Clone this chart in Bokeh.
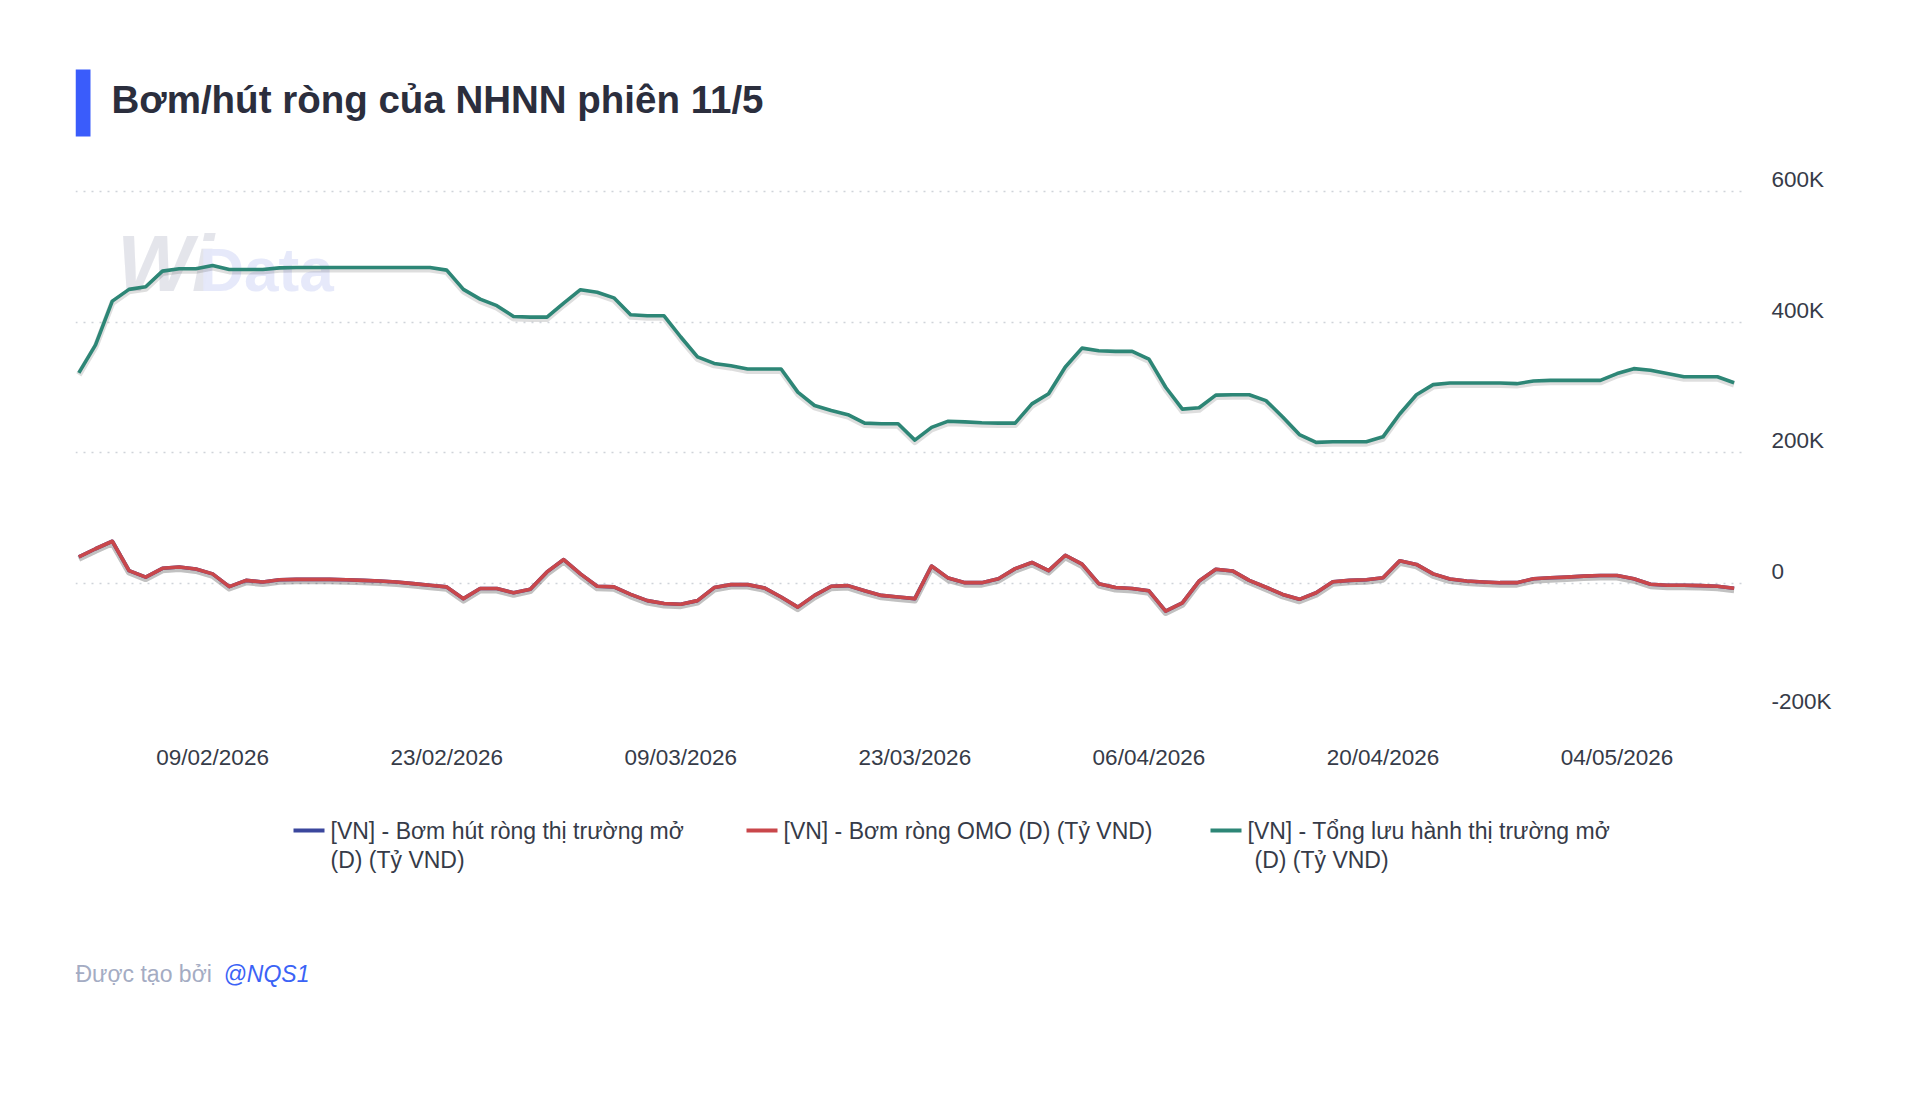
import pandas as pd
from bokeh.plotting import figure
from bokeh.models import (ColumnDataSource, Range1d, FixedTicker, DatetimeTickFormatter,
                          Label, BoxAnnotation, LinearAxis)
from bokeh.layouts import column
from bokeh.transform import dodge
from bokeh.embed import file_html
from bokeh.resources import INLINE

# ---------------- data, daily 01/02/2026 .. 11/05/2026 ----------------
first_day = "2026-02-01"
last_day = "2026-05-11"

tong_luu_hanh = [  # [VN] - Tổng lưu hành thị trường mở (D) (Tỷ VND)
    322000, 365000, 432000, 450000, 454000, 478000, 481500, 481500, 486500, 480500,
    480500, 480500, 483000, 483500, 483500, 483500, 483500, 483500, 483500, 483500,
    483500, 483500, 479500, 450000, 435000, 425000, 408500, 407500, 407500, 429000,
    449500, 445500, 437000, 411000, 409500, 409500, 377000, 346500, 336500, 333000,
    328000, 328000, 328000, 292500, 272000, 264500, 258000, 245000, 244000, 244000,
    219000, 238500, 248000, 247000, 245500, 245000, 245000, 274500, 290000, 331000,
    360000, 356000, 355000, 355000, 343000, 300000, 266500, 268500, 288000, 288500,
    288500, 279500, 254500, 227500, 215500, 216500, 216500, 216500, 224000, 259000,
    288500, 304000, 306500, 306500, 306500, 306500, 305500, 309500, 310500, 310500,
    310500, 310500, 321000, 328500, 326000, 321000, 316000, 316000, 316000, 307000,
]

bom_rong_omo = [  # [VN] - Bơm ròng OMO (D) (Tỷ VND)
    40000, 52500, 64000, 19000, 9000, 22500, 24500, 21500, 14000, -5500,
    4000, 1500, 5000, 5500, 5500, 5500, 5000, 4000, 3000, 1500,
    -1000, -3500, -6000, -24000, -8500, -8500, -15000, -9500, 17000, 36000,
    14000, -5000, -6000, -17500, -27000, -31500, -32500, -27000, -7000, -2500,
    -2500, -7500, -21500, -37000, -19000, -5000, -4000, -12000, -19000, -21500,
    -24000, 26000, 7500, 500, 500, 6500, 22000, 31500, 19000, 42500,
    29000, -1000, -7000, -8500, -12000, -43000, -30500, 3000, 21000, 18500,
    4000, -6500, -17500, -25000, -15000, 2000, 4000, 5000, 8000, 34000,
    28500, 14000, 6000, 3000, 1500, 500, 500, 6500, 8000, 9000,
    10500, 11500, 11500, 6500, -2000, -3500, -3500, -4000, -5000, -8000,
]

# [VN] - Bơm hút ròng thị trường mở (D) (Tỷ VND): hidden under the OMO line, same values
bom_hut_rong = list(bom_rong_omo)

x_tick_dates = ["2026-02-09", "2026-02-23", "2026-03-09", "2026-03-23",
                "2026-04-06", "2026-04-20", "2026-05-04"]
y_ticks = [-200000, 0, 200000, 400000, 600000]
y_tick_labels = ["-200K", "0", "200K", "400K", "600K"]

title_text = "Bơm/hút ròng của NHNN phiên 11/5"
series_names = [
    ["[VN] - Bơm hút ròng thị trường mở", "(D) (Tỷ VND)"],
    ["[VN] - Bơm ròng OMO (D) (Tỷ VND)"],
    ["[VN] - Tổng lưu hành thị trường mở", "(D) (Tỷ VND)"],
]
second_line_indent = [0, 0, 7]
series_colors = ["#3b479d", "#c9474b", "#2d8676"]
credit_text = "Được tạo bởi"
credit_user = "@NQS1"

# ---------------- styles / layout ----------------
FONT = "Liberation Sans"
TEXT_COLOR = "#363b48"
W = 1904
BL, BR = 75, 157            # left / right borders shared by all three panels
FRAME_W = W - BL - BR       # 1672
GRID_PX = 522               # pixels between -200K and 600K
FRAME_H = 548               # frame a bit taller than the grid, on top
TOP_H, MAIN_TOP, MAIN_BOT, BOT_H = 140, 25, 60, 250

dates = pd.date_range(first_day, last_day, freq="D")
src = ColumnDataSource(dict(date=dates, tong=tong_luu_hanh, omo=bom_rong_omo, net=bom_hut_rong))

day_ms = 86400000
x0 = pd.Timestamp(first_day).value // 10**6
y_lo, y_hi = -200000, 600000
unit_per_px = (y_hi - y_lo) / GRID_PX
y_top = y_lo + FRAME_H * unit_per_px
label_lift = 12 * unit_per_px          # tick labels sit ~12px above their grid line


def blank_fig(h):
    f = figure(width=W, height=h, x_range=Range1d(0, FRAME_W), y_range=Range1d(h, 0),
               x_axis_type=None, y_axis_type=None, output_backend="svg",
               toolbar_location=None, title=None, min_border_left=BL, min_border_right=BR,
               min_border_top=0, min_border_bottom=0)
    f.outline_line_color = None
    f.xgrid.visible = False
    f.ygrid.visible = False
    f.background_fill_color = "white"
    f.border_fill_color = "white"
    return f


# ---------------- title block ----------------
top = blank_fig(TOP_H)
top.add_layout(BoxAnnotation(left=0, right=15, top=69, bottom=136,
                             fill_color="#3a5cfb", fill_alpha=1, line_color=None))
top.add_layout(Label(x=36, y=99, text=title_text, text_font=FONT, text_font_size="38.5px",
                     text_font_style="bold", text_color="#2b2e3d", text_baseline="middle"))

# ---------------- main chart ----------------
p = figure(width=W, height=MAIN_TOP + FRAME_H + MAIN_BOT, x_axis_type="datetime",
           y_axis_location="right",
           x_range=Range1d(x0 - 0.2 * day_ms, x0 + 99.8 * day_ms), y_range=Range1d(y_lo, y_top),
           output_backend="svg", toolbar_location=None, title=None,
           min_border_left=BL, min_border_right=BR, min_border_top=MAIN_TOP,
           min_border_bottom=MAIN_BOT)
p.extra_y_ranges = {"lbl": Range1d(y_lo - label_lift, y_top - label_lift)}
p.outline_line_color = None
p.background_fill_color = "white"
p.border_fill_color = "white"
p.xgrid.grid_line_color = None
p.ygrid.ticker = FixedTicker(ticks=y_ticks)
p.ygrid.grid_line_color = "#cfd3d9"
p.ygrid.grid_line_width = 1.6
p.ygrid.grid_line_dash = "2 6"
p.yaxis.visible = False

yax = LinearAxis(y_range_name="lbl", ticker=FixedTicker(ticks=y_ticks),
                 major_label_overrides={t: s for t, s in zip(y_ticks, y_tick_labels)})
p.add_layout(yax, "right")

p.xaxis.ticker = FixedTicker(ticks=[pd.Timestamp(d).value // 10**6 for d in x_tick_dates])
p.xaxis.formatter = DatetimeTickFormatter(days="%d/%m/%Y", months="%d/%m/%Y", years="%d/%m/%Y",
                                          hours="%d/%m/%Y")
for ax in (p.xaxis[0], yax):
    ax.axis_line_color = None
    ax.major_tick_line_color = None
    ax.minor_tick_line_color = None
    ax.major_label_text_font = FONT
    ax.major_label_text_font_size = "22.5px"
    ax.major_label_text_color = TEXT_COLOR
yax.major_label_standoff = 18
p.xaxis.major_label_standoff = 25

# watermark
p.add_layout(Label(x=x0 + 2.3 * day_ms, y=422000, text="Wi", text_font=FONT, text_font_size="80px",
                   text_font_style="bold italic", text_color="#dfe0e7", text_alpha=0.85,
                   level="underlay"))
p.add_layout(Label(x=x0 + 7.2 * day_ms, y=427000, text="Data", text_font=FONT, text_font_size="62px",
                   text_font_style="bold", text_color="#e5e8fa", text_alpha=0.95,
                   level="underlay"))

for col in ("tong", "net", "omo"):
    p.line(x="date", y=dodge(col, -3000), source=src, line_color="#000000", line_alpha=0.13,
           line_width=6, line_join="round")
p.line(x="date", y="tong", source=src, line_color=series_colors[2], line_width=3.6, line_join="round")
p.line(x="date", y="net", source=src, line_color=series_colors[0], line_width=3.6, line_join="round")
p.line(x="date", y="omo", source=src, line_color=series_colors[1], line_width=3.6, line_join="round")

# ---------------- legend + credit ----------------
bot = blank_fig(BOT_H)
swatch_x = [218, 671, 1135]
LEG_Y = 57
for sx, names, colr, ind in zip(swatch_x, series_names, series_colors, second_line_indent):
    bot.add_layout(BoxAnnotation(left=sx, right=sx + 31, top=LEG_Y - 2, bottom=LEG_Y + 2,
                                 fill_color=colr, fill_alpha=1, line_color=None))
    for k, nm in enumerate(names):
        bot.add_layout(Label(x=sx + 37 + (ind if k else 0), y=LEG_Y + 29 * k, text=nm,
                             text_font=FONT, text_font_size="23px", text_color=TEXT_COLOR,
                             text_baseline="middle"))
bot.add_layout(Label(x=0, y=200, text=credit_text, text_font=FONT, text_font_size="23px",
                     text_color="#a4acc3", text_baseline="middle"))
bot.add_layout(Label(x=148, y=200, text=credit_user, text_font=FONT, text_font_size="23px",
                     text_font_style="italic", text_color="#3b63f6", text_baseline="middle"))

layout = column(top, p, bot, spacing=0)
open("out.html", "w").write(file_html(layout, INLINE))
